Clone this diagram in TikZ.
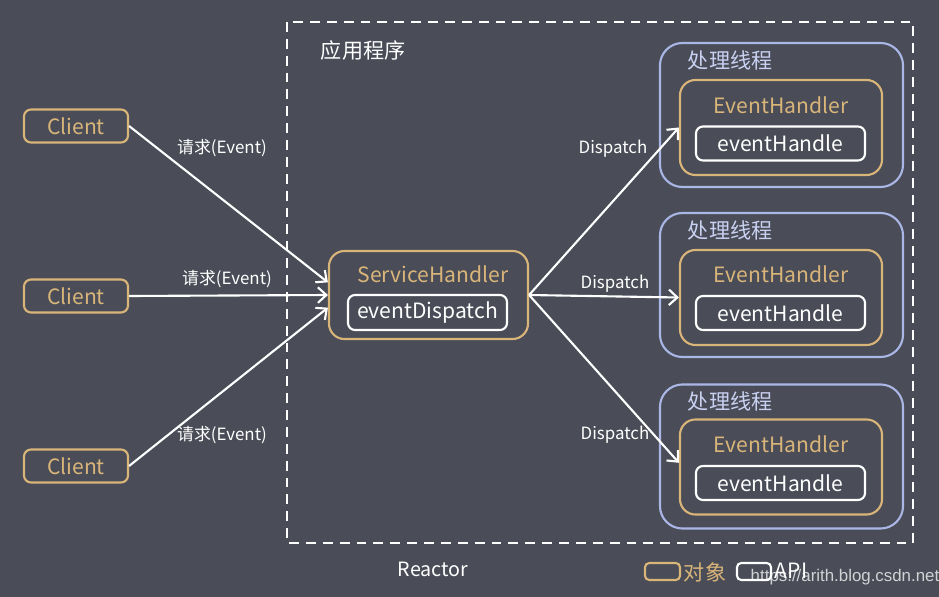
\documentclass[tikz,border=0pt]{standalone}
\usepackage{fontspec}
\setmainfont{Noto Sans CJK SC}
\newfontfamily\urlfont{Liberation Sans}
\usepackage{xcolor}
\usetikzlibrary{arrows.meta}
\definecolor{bgcol}{HTML}{4A4D57}
\definecolor{gold}{HTML}{D9B57A}
\definecolor{lav}{HTML}{AAB7E6}
\definecolor{lavtext}{HTML}{C9D1F2}
\newcommand{\bigtxt}{\fontsize{15}{18}\selectfont}
\newcommand{\lbltxt}{\fontsize{12}{14}\selectfont}
\tikzset{
	obj/.style={draw=gold, line width=1.5pt, text=gold, font=\bigtxt},
	api/.style={draw=white, line width=1.5pt, text=white, font=\bigtxt, rounded corners=5pt},
	thread/.style={draw=lav, line width=1.5pt, rounded corners=16pt},
	lbl/.style={text=white, font=\lbltxt},
	flow/.style={->, white, line width=1.5pt},
}

\begin{document}
\begin{tikzpicture}[x=0.025cm,y=-0.025cm,>={Straight Barb[length=6pt,width=11pt]}]
	\fill[bgcol] (0,0) rectangle (939,597);
	\useasboundingbox (0,0) rectangle (939,597);
	
	\draw[white,line width=2pt,dash pattern=on 7pt off 5pt] (287,22) rectangle (913,543);
	\node[right,text=white,font=\bigtxt] (app) at (316,50) {应用程序};
	\node[text=white,font=\fontsize{14}{16}\selectfont] (reactor) at (433,569) {Reactor};
	
	\node[obj,rounded corners=5pt,minimum width=2.6cm,minimum height=0.825cm] (c1) at (76,126) {Client};
	\node[obj,rounded corners=5pt,minimum width=2.6cm,minimum height=0.825cm] (c2) at (76,296) {Client};
	\node[obj,rounded corners=5pt,minimum width=2.6cm,minimum height=0.825cm] (c3) at (76,466) {Client};
	
	\node[obj,rounded corners=11pt,minimum width=4.975cm,minimum height=2.2cm] (sh) at (428.5,295) {};
	\node[text=gold,font=\bigtxt] (shname) at (433,274) {ServiceHandler};
	\node[api,minimum width=3.975cm,minimum height=0.875cm] (disp) at (427.5,312.5) {eventDispatch};
	
	\node[thread,minimum width=6.075cm,minimum height=3.6cm] (t1) at (781.5,115) {};
	\node[thread,minimum width=6.075cm,minimum height=3.6cm] (t2) at (781.5,285) {};
	\node[thread,minimum width=6.075cm,minimum height=3.6cm] (t3) at (781.5,456.5) {};
	\node[right,text=lavtext,font=\bigtxt] (t1name) at (683,60) {处理线程};
	\node[right,text=lavtext,font=\bigtxt] (t2name) at (683,230) {处理线程};
	\node[right,text=lavtext,font=\bigtxt] (t3name) at (683,401) {处理线程};
	
	\node[obj,rounded corners=11pt,minimum width=5.05cm,minimum height=2.375cm] (eh1) at (781,127.5) {};
	\node[obj,rounded corners=11pt,minimum width=5.05cm,minimum height=2.375cm] (eh2) at (781,297.5) {};
	\node[obj,rounded corners=11pt,minimum width=5.05cm,minimum height=2.375cm] (eh3) at (781,467) {};
	\node[text=gold,font=\bigtxt] (eh1name) at (781,105) {EventHandler};
	\node[text=gold,font=\bigtxt] (eh2name) at (781,274) {EventHandler};
	\node[text=gold,font=\bigtxt] (eh3name) at (781,444) {EventHandler};
	\node[api,minimum width=4.225cm,minimum height=0.85cm] (h1) at (780.5,143.5) {eventHandle};
	\node[api,minimum width=4.225cm,minimum height=0.85cm] (h2) at (780.5,313) {eventHandle};
	\node[api,minimum width=4.225cm,minimum height=0.85cm] (h3) at (780.5,483) {eventHandle};
	
	\draw[flow] (c1.east) -- ([yshift=9pt]sh.west);
	\draw[flow] (c2.east) -- (sh.west);
	\draw[flow] (c3.east) -- ([yshift=-9pt]sh.west);
	\node[lbl] (r1) at (222,148) {请求(Event)};
	\node[lbl] (r2) at (227,279) {请求(Event)};
	\node[lbl] (r3) at (222,435) {请求(Event)};
	
	\draw[flow] (sh.east) -- (eh1.west);
	\draw[flow] (sh.east) -- (eh2.west);
	\draw[flow] (sh.east) -- ([yshift=3pt]eh3.west);
	\node[lbl] (d1) at (613,149) {Dispatch};
	\node[lbl] (d2) at (615,284) {Dispatch};
	\node[lbl] (d3) at (615,435) {Dispatch};
	
	\draw[gold,line width=1.5pt,rounded corners=3pt] (645,563) rectangle (680,580);
	\node[text=gold,font=\bigtxt] (objkey) at (705,572) {对象};
	\draw[white,line width=1.5pt,rounded corners=3pt] (737,563) rectangle (771,580);
	\node[text=white,font=\bigtxt] (apikey) at (791,571) {API};
	\node[text=white,opacity=0.75,font=\urlfont\fontsize{12}{14}\selectfont] (url) at (845,577) {https://arith.blog.csdn.net};
\end{tikzpicture}
\end{document}
